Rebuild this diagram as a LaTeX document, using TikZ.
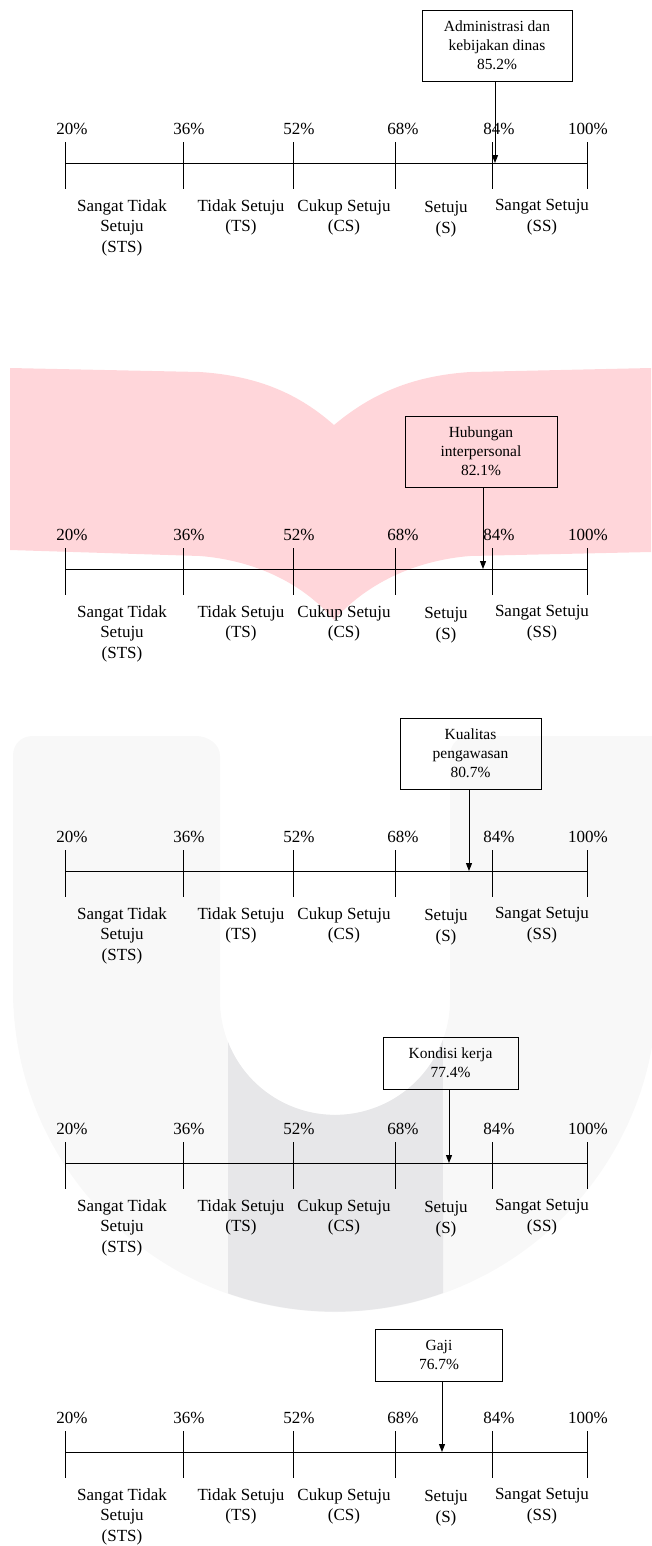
\documentclass[tikz,border=0pt]{standalone}
\usepackage{fontspec}
\setmainfont{Liberation Serif}
\usetikzlibrary{arrows.meta}
\definecolor{wmpink}{RGB}{255,214,218}
\definecolor{wmgray}{RGB}{248,248,248}
\definecolor{wmband}{RGB}{231,231,233}
\tikzset{
  scaleline/.style={line width=0.75pt},
  pctlabel/.style={inner sep=0pt, font=\fontsize{12.75}{15.4}\selectfont},
  catlabel/.style={anchor=north, inner sep=0pt, align=center, font=\fontsize{12.75}{15.4}\selectfont},
  scorebox/.style={draw, line width=0.75pt, inner sep=0pt, align=center, font=\fontsize{11.6}{14.25}\selectfont},
  threeline/.style={minimum height=53.25pt},
  twoline/.style={minimum height=39pt},
  pointer/.style={line width=0.75pt, -{Triangle[length=6pt,width=4.5pt]}}
}
\begin{document}
\begin{tikzpicture}[x=0.75pt,y=0.75pt,yscale=-1]
	\useasboundingbox (0,0) rectangle (651,1546);
	
	%Shape: watermark book
	\fill[wmpink] (10,368) -- (200,372) .. controls (260,376) and (300,395) .. (334,425) .. controls (370,395) and (410,376) .. (470,372) -- (651,368) -- (651,552) -- (470,556) .. controls (420,560) and (370,580) .. (334,620) .. controls (300,580) and (250,560) .. (200,556) -- (10,550) -- cycle ;
	%Shape: watermark U
	\fill[wmgray] (13,756) -- (13,990) arc[start angle=180, end angle=0, radius=322] -- (657,736) -- (470,736) .. controls (458,736) and (450,744) .. (450,756) -- (450,1000) arc[start angle=0, end angle=180, radius=115] -- (220,756) .. controls (220,744) and (208,736) .. (196,736) -- (33,736) .. controls (21,736) and (13,744) .. (13,756) -- cycle ;
	%Shape: watermark band
	\fill[wmband] (228,1042) arc[start angle=158.5, end angle=20.1, radius=115] -- (443,1293) arc[start angle=70.4, end angle=109.4, radius=322] -- cycle ;
	
	%Scales
	\foreach \A/\n in {163/1,569/2,871/3,1163/4,1452/5}{
		\foreach \x/\lx/\p [count=\k] in {65/72/20,183/189/36,293/299/52,395/403/68,492/499/84,587/588/100}{
			\coordinate (t\n-\k) at (\x,\A-21);
			\coordinate (u\n-\k) at (\x,\A+26);
			\coordinate (a\n-\k) at (\x,\A);
			\draw[scaleline] (t\n-\k) -- (u\n-\k);
			\node[pctlabel] (pct\n-\k) at (\lx,\A-34) {\p\%};
		}
		\draw[scaleline] (a\n-1) -- (a\n-6);
		\node[catlabel] (sts\n) at (122,\A+36) {Sangat Tidak\\Setuju\\(STS)};
		\node[catlabel] (ts\n) at (241,\A+36) {Tidak Setuju\\(TS)};
		\node[catlabel] (cs\n) at (344,\A+36) {Cukup Setuju\\(CS)};
		\node[catlabel] (s\n) at (446,\A+38) {Setuju\\(S)};
		\node[catlabel] (ss\n) at (542,\A+36) {Sangat Setuju\\(SS)};
	}
	
	% Text Node
	\node[scorebox, threeline, minimum width=112.5pt] (adm) at (497,45.5) {Administrasi dan\\kebijakan dinas\\85.2\%};
	\coordinate (adm-v) at (495,163);
	\draw[pointer] (adm.south -| adm-v) -- (adm-v);
	% Text Node
	\node[scorebox, threeline, minimum width=114pt] (hub) at (481,451.5) {Hubungan\\interpersonal\\82.1\%};
	\coordinate (hub-v) at (483,569);
	\draw[pointer] (hub.south -| hub-v) -- (hub-v);
	% Text Node
	\node[scorebox, threeline, minimum width=105.75pt] (kua) at (470.5,753.5) {Kualitas\\pengawasan\\80.7\%};
	\coordinate (kua-v) at (469,871);
	\draw[pointer] (kua.south -| kua-v) -- (kua-v);
	% Text Node
	\node[scorebox, twoline, minimum width=101.25pt] (kon) at (450.5,1063) {Kondisi kerja\\77.4\%};
	\coordinate (kon-v) at (449,1163);
	\draw[pointer] (kon.south -| kon-v) -- (kon-v);
	% Text Node
	\node[scorebox, twoline, minimum width=95.25pt] (gaji) at (439,1355) {Gaji\\76.7\%};
	\coordinate (gaji-v) at (442,1452);
	\draw[pointer] (gaji.south -| gaji-v) -- (gaji-v);
	
\end{tikzpicture}
\end{document}
